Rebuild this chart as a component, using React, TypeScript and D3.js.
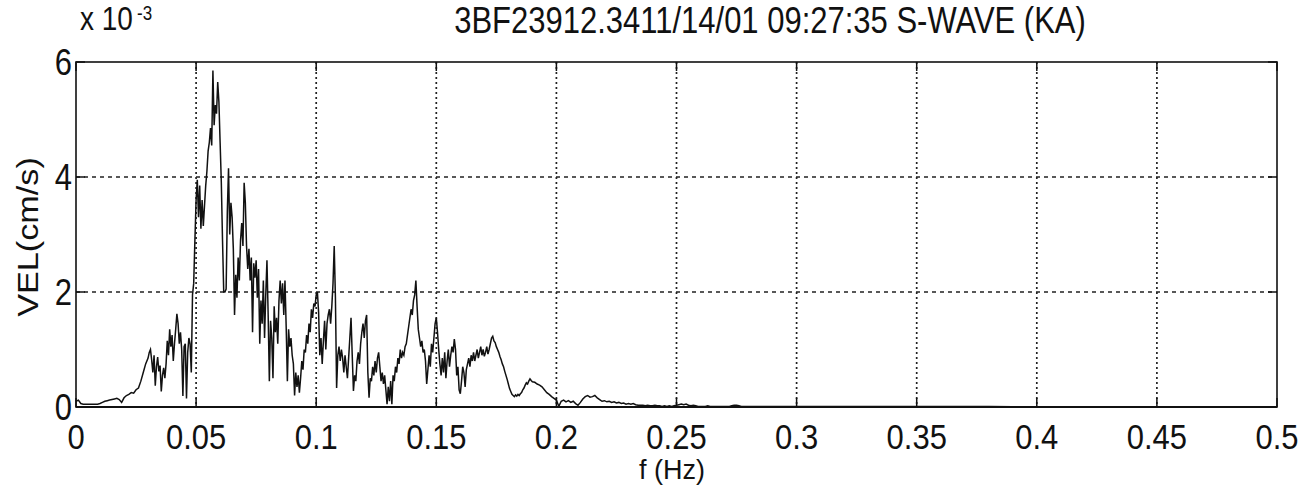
import React from "react";
import * as d3 from "d3";

// Velocity spectrum amplitude, in units of 1e-3 cm/s.
// f = 0 .. 0.030 Hz, step 0.001
const lowBand = [
  0.10, 0.12, 0.06, 0.05, 0.05, 0.05, 0.05, 0.05, 0.05, 0.05,
  0.06, 0.08, 0.10, 0.11, 0.12, 0.13, 0.14, 0.15, 0.13, 0.08,
  0.16, 0.20, 0.22, 0.25, 0.24, 0.30, 0.33, 0.45, 0.60, 0.75,
  0.85,
];

// f = 0.0305 .. 0.190 Hz, step 0.0005
const mainBand = [
  0.95, 1.0, 0.82, 0.6, 0.9, 0.37, 0.7, 0.87, 0.62, 0.72,
  0.27, 0.55, 0.68, 0.5, 0.75, 1.15, 0.9, 1.35, 1.05, 1.25,
  0.8, 1.1, 1.35, 1.62, 1.45, 1.1, 1.3, 1.0, 0.19, 1.05,
  1.1, 0.15, 0.95, 1.2, 1.1, 0.6, 1.95, 2.15, 2.9, 3.6,
  3.95, 3.3, 3.85, 3.1, 3.6, 3.15, 3.5, 3.85, 4.1, 4.45,
  4.6, 4.85, 4.55, 5.85, 4.9, 5.25, 5.1, 5.65, 5.3, 4.6,
  3.9, 2.9, 2.0, 2.0, 2.05, 3.4, 4.15, 3.0, 3.55, 3.3,
  2.75, 1.6, 2.3, 1.9, 2.6, 2.2, 2.9, 3.2, 2.8, 3.9,
  3.55, 2.8, 2.4, 2.75, 2.2, 2.6, 1.3, 2.5, 2.25, 2.55,
  1.9, 2.4, 1.1, 1.85, 1.45, 2.2, 1.2, 1.95, 2.55, 1.6,
  0.45, 1.5, 1.2, 0.5, 1.75, 1.3, 1.55, 1.1, 1.85, 2.2,
  1.8, 2.15, 1.6, 2.2, 1.4, 0.45, 1.35, 1.05, 1.2, 0.9,
  0.75, 0.2, 0.6, 0.35, 0.55, 0.25, 0.5, 0.8, 0.65, 1.0,
  0.95, 1.25, 1.1, 1.45, 1.3, 1.7, 1.55, 1.8, 1.75, 1.95,
  2.0, 1.65, 0.9, 1.2, 0.75, 1.15, 1.5, 1.0, 1.45, 1.6,
  1.7, 1.45, 1.75, 2.15, 2.8, 1.9, 0.33, 0.9, 1.05, 0.8,
  1.0, 0.85, 0.6, 0.9, 0.7, 0.5, 0.85, 1.2, 1.55, 0.9,
  0.28, 0.55, 0.45, 0.8, 0.95, 0.75, 1.1, 1.3, 1.45, 1.2,
  1.5, 1.6, 0.6, 0.16, 0.5, 0.45, 0.7, 0.55, 0.8, 0.6,
  0.85, 0.95, 0.7, 0.45, 0.6, 0.4, 0.55, 0.3, 0.05, 0.35,
  0.1, 0.45, 0.05, 0.55, 0.45, 0.7, 0.6, 0.85, 0.75, 1.0,
  0.85, 0.95, 0.9, 1.05, 1.1, 1.25, 1.4, 1.55, 1.7, 1.6,
  1.85, 1.95, 2.2, 1.75, 1.35, 1.2, 1.05, 1.15, 0.95, 1.0,
  0.8, 0.4, 0.65, 0.9, 0.7, 1.1, 0.95, 1.2, 1.45, 1.55,
  1.3, 1.0, 0.75, 0.55, 0.85, 0.6, 0.95, 0.5, 0.8, 1.0,
  0.7, 0.9, 1.05, 0.95, 1.18, 1.0, 0.55, 0.7, 0.3, 0.23,
  0.45, 0.7, 0.6, 0.35, 0.65, 0.75, 0.85, 0.7, 0.9, 0.8,
  0.95, 0.8, 0.9, 1.0, 0.85, 0.95, 1.05, 0.9, 1.0, 0.88,
  0.95, 1.05, 0.92, 1.0, 1.1, 1.2, 1.23, 1.15, 1.12, 1.05,
  1.0, 0.95, 0.88, 0.82, 0.75, 0.7, 0.62, 0.55, 0.48, 0.4,
  0.32, 0.27, 0.22, 0.2, 0.18, 0.21, 0.19, 0.22, 0.2, 0.23,
  0.25, 0.3, 0.33, 0.38, 0.42, 0.4, 0.45, 0.49, 0.46, 0.44,
];

// f = 0.191 .. 0.300 Hz, step 0.001
const upperBand = [
  0.43, 0.40, 0.38, 0.35, 0.30, 0.25, 0.22, 0.18, 0.15, 0.12,
  0.01, 0.10, 0.12, 0.09, 0.11, 0.08, 0.10, 0.06, 0.03, 0.08,
  0.14, 0.18, 0.20, 0.17, 0.18, 0.20, 0.16, 0.13, 0.10, 0.11,
  0.09, 0.10, 0.08, 0.09, 0.07, 0.08, 0.06, 0.07, 0.05, 0.06,
  0.05, 0.06, 0.04, 0.03, 0.03, 0.03, 0.02, 0.03, 0.02, 0.02,
  0.03, 0.02, 0.02, 0.01, 0.02, 0.01, 0.02, 0.01, 0.02, 0.03,
  0.04, 0.05, 0.04, 0.05, 0.03, 0.02, 0.03, 0.02, 0.01, 0.01,
  0.01, 0.01, 0.02, 0.01, 0.01, 0.01, 0.01, 0.01, 0.01, 0.01,
  0.01, 0.01, 0.02, 0.03, 0.03, 0.02, 0.01, 0.01, 0.01, 0.01,
  0.01, 0.01, 0.01, 0.01, 0.01, 0.01, 0.01, 0.01, 0.01, 0.01,
  0.01, 0.01, 0.01, 0.01, 0.01, 0.01, 0.01, 0.01, 0.01, 0.01,
];

// f = 0.31 .. 0.50 Hz, step 0.01
const tailBand = [
  0.01, 0.01, 0.008, 0.008, 0.008, 0.007, 0.007, 0.007, 0.006, 0.006,
  0.006, 0.006, 0.005, 0.005, 0.005, 0.005, 0.005, 0.005, 0.005, 0.005,
];

const xTicks = [0, 0.05, 0.1, 0.15, 0.2, 0.25, 0.3, 0.35, 0.4, 0.45, 0.5];
const xTickLabels = ["0", "0.05", "0.1", "0.15", "0.2", "0.25", "0.3", "0.35", "0.4", "0.45", "0.5"];
const yTicks = [0, 2, 4, 6];
const yTickLabels = ["0", "2", "4", "6"];

const titleText = "3BF23912.3411/14/01 09:27:35 S-WAVE (KA)";
const xLabel = "f (Hz)";
const yLabel = "VEL(cm/s)";

type Pt = { f: number; v: number };

function band(values: number[], start: number, step: number): Pt[] {
  return values.map((v, i) => ({ f: +(start + i * step).toFixed(5), v }));
}

const spectrum: Pt[] = [
  ...band(lowBand, 0, 0.001),
  ...band(mainBand, 0.0305, 0.0005),
  ...band(upperBand, 0.191, 0.001),
  ...band(tailBand, 0.31, 0.01),
];

// Text drawn slightly taller than wide, like the printed figure.
function Label(props: {
  x: number;
  y: number;
  size: number;
  anchor?: "start" | "middle" | "end";
  rotate?: number;
  sy?: number;
  dy?: string;
  children: React.ReactNode;
}) {
  const { x, y, size, anchor = "start", rotate = 0, sy = 1.18, dy, children } = props;
  return (
    <g transform={`translate(${x},${y}) scale(1,${sy}) rotate(${rotate})`}>
      <text x={0} y={0} dy={dy} textAnchor={anchor} fontSize={size} fill="#111">
        {children}
      </text>
    </g>
  );
}

export default function App() {
  const W = 1302;
  const H = 486;
  const left = 76;
  const right = 1277;
  const top = 62;
  const bottom = 407;

  const x = d3.scaleLinear().domain([0, 0.5]).range([left, right]);
  const y = d3.scaleLinear().domain([0, 6]).range([bottom, top]);

  const line = d3
    .line<Pt>()
    .x((d) => x(d.f))
    .y((d) => y(d.v));

  const font = "'Liberation Sans', Arial, Helvetica, sans-serif";
  const tickLen = 9;

  return (
    <svg
      width={W}
      height={H}
      style={{ position: "absolute", left: 0, top: 0, background: "#fff" }}
      fontFamily={font}
    >
      <rect x={0} y={0} width={W} height={H} fill="#fff" />

      {/* grid */}
      {xTicks.slice(1, -1).map((t) => (
        <line
          key={"gx" + t}
          x1={x(t)}
          x2={x(t)}
          y1={top}
          y2={bottom}
          stroke="#222"
          strokeWidth={1.7}
          strokeDasharray="2,3"
        />
      ))}
      {yTicks.slice(1, -1).map((t) => (
        <line
          key={"gy" + t}
          x1={left}
          x2={right}
          y1={y(t)}
          y2={y(t)}
          stroke="#222"
          strokeWidth={1.3}
          strokeDasharray="4,4"
        />
      ))}

      {/* spectrum trace */}
      <path d={line(spectrum) || ""} fill="none" stroke="#111" strokeWidth={1.5} strokeLinejoin="miter" />

      {/* ticks */}
      {xTicks.map((t) => (
        <g key={"tx" + t}>
          <line x1={x(t)} x2={x(t)} y1={bottom} y2={bottom - tickLen} stroke="#111" strokeWidth={1.5} />
          <line x1={x(t)} x2={x(t)} y1={top} y2={top + tickLen} stroke="#111" strokeWidth={1.5} />
        </g>
      ))}
      {yTicks.map((t) => (
        <g key={"ty" + t}>
          <line x1={left} x2={left + tickLen} y1={y(t)} y2={y(t)} stroke="#111" strokeWidth={1.5} />
          <line x1={right} x2={right - tickLen} y1={y(t)} y2={y(t)} stroke="#111" strokeWidth={1.5} />
        </g>
      ))}

      {/* axes box */}
      <rect x={left} y={top} width={right - left} height={bottom - top} fill="none" stroke="#111" strokeWidth={1.6} />
      <line x1={left} x2={right} y1={bottom} y2={bottom} stroke="#111" strokeWidth={2.2} />

      {/* tick labels */}
      {xTicks.map((t, i) => (
        <Label key={"lx" + t} x={x(t)} y={449} size={31} anchor="middle" sy={1.12}>
          {xTickLabels[i]}
        </Label>
      ))}
      {yTicks.map((t, i) => (
        <Label key={"ly" + t} x={left - 4} y={y(t)} size={31} anchor="end" dy="0.36em">
          {yTickLabels[i]}
        </Label>
      ))}

      {/* exponent */}
      <Label x={80} y={30} size={28}>x 10</Label>
      <Label x={137} y={20} size={17}>-3</Label>

      {/* title */}
      <Label x={770} y={33} size={31} anchor="middle">
        {titleText}
      </Label>

      {/* axis labels */}
      <Label x={672} y={479} size={27} anchor="middle" sy={1.0}>
        {xLabel}
      </Label>
      <Label x={38} y={237} size={29} anchor="middle" rotate={-90}>
        {yLabel}
      </Label>
    </svg>
  );
}
